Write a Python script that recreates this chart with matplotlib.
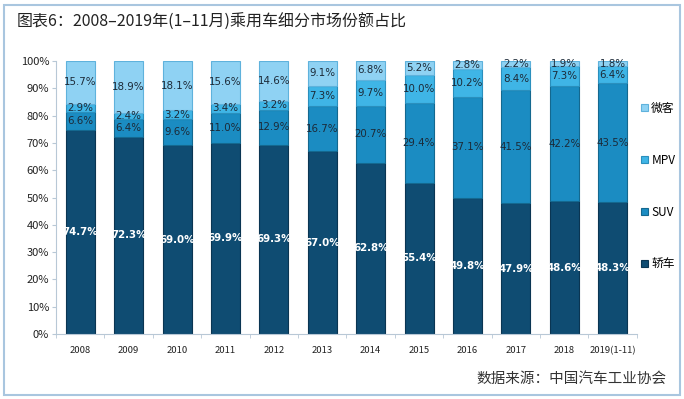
import matplotlib.pyplot as plt
import matplotlib.patches as mpatches
import numpy as np

plt.rcParams['font.family'] = ['Noto Sans CJK SC', 'DejaVu Sans']

years = ["2008", "2009", "2010", "2011", "2012", "2013", "2014",
         "2015", "2016", "2017", "2018", "2019(1-11)"]
sedan = [74.7, 72.3, 69.0, 69.9, 69.3, 67.0, 62.8, 55.4, 49.8, 47.9, 48.6, 48.3]
suv = [6.6, 6.4, 9.6, 11.0, 12.9, 16.7, 20.7, 29.4, 37.1, 41.5, 42.2, 43.5]
mpv = [2.9, 2.4, 3.2, 3.4, 3.2, 7.3, 9.7, 10.0, 10.2, 8.4, 7.3, 6.4]
micro = [15.7, 18.9, 18.1, 15.6, 14.6, 9.1, 6.8, 5.2, 2.8, 2.2, 1.9, 1.8]

series = [("轿车", sedan, "#0f4c72", "#0a3552", "white", "bold"),
          ("SUV", suv, "#1b8cc2", "#14688f", "#1c2a38", "normal"),
          ("MPV", mpv, "#3fb5e6", "#2a8fbd", "#1c2a38", "normal"),
          ("微客", micro, "#8fd2f3", "#5fb2dc", "#1c2a38", "normal")]

# 100% stacked: scale each year to its total
totals = np.array(sedan) + np.array(suv) + np.array(mpv) + np.array(micro)

fig = plt.figure(figsize=(6.84, 3.99), dpi=100)
ax = fig.add_axes([0.082, 0.163, 0.849, 0.684])

x = np.arange(len(years))
bottom = np.zeros(len(years))
handles = []
for name, vals, color, edge, tcolor, weight in series:
    h = np.array(vals) / totals * 100
    bars = ax.bar(x, h, width=0.6, bottom=bottom, color=color,
                  edgecolor=edge, linewidth=0.8, label=name)
    for xi, b, hi, v in zip(x, bottom, h, vals):
        ax.text(xi, b + hi / 2, f"{v:.1f}%", ha="center", va="center",
                fontsize=7.4, color=tcolor, fontweight=weight,
                family="DejaVu Sans")
    bottom += h
    handles.append(bars)

ax.set_xlim(-0.5, len(years) - 0.5)
ax.set_ylim(0, 100)
ax.set_yticks(np.arange(0, 101, 10))
ax.set_yticklabels([f"{v}%" for v in range(0, 101, 10)], fontsize=8,
                   color="#222222")
ax.set_xticks(x)
ax.set_xticklabels(years, fontsize=6.8, color="#222222")
ax.set_xticks(np.arange(-0.5, len(years), 1), minor=True)
ax.tick_params(axis="x", which="major", length=0, pad=9)
ax.tick_params(axis="x", which="minor", length=3, color="#b8c8d6")
ax.tick_params(axis="y", length=3, color="#b8c8d6", pad=2)
for s in ["top", "right"]:
    ax.spines[s].set_visible(False)
for s in ["left", "bottom"]:
    ax.spines[s].set_color("#b8c8d6")
    ax.spines[s].set_linewidth(0.8)

fig.legend(handles[::-1], [s[0] for s in series][::-1],
           loc="upper left", bbox_to_anchor=(0.928, 0.76),
           frameon=False, fontsize=8.5, handlelength=0.6, handleheight=0.6,
           handletextpad=0.3, labelspacing=3.3, borderpad=0)

fig.text(0.025, 0.945, "图表6：2008–2019年(1–11月)乘用车细分市场份额占比",
         fontsize=11.5, color="#222222", ha="left", va="center")
fig.text(0.975, 0.05, "数据来源：中国汽车工业协会", fontsize=10.5,
         color="#333333", ha="right", va="center")

frame = mpatches.Rectangle((0.006, 0.01), 0.988, 0.978, transform=fig.transFigure,
                           fill=False, edgecolor="#a9c6df", linewidth=1.5)
fig.patches.append(frame)

fig.savefig("out.png", dpi=100)
